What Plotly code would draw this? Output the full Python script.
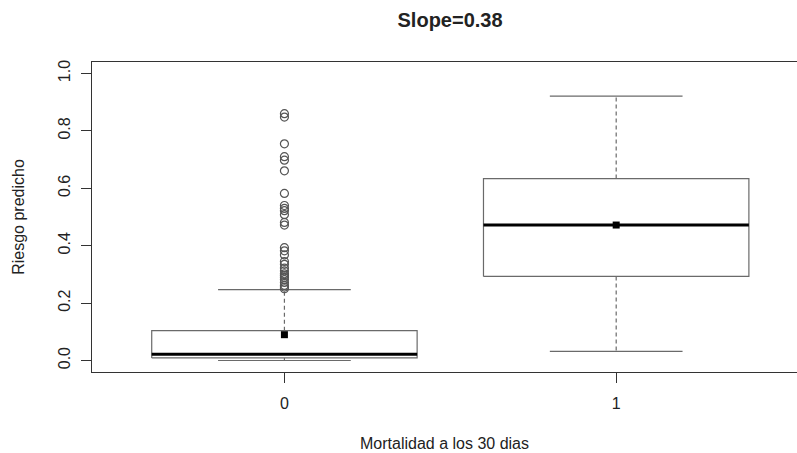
import plotly.graph_objects as go

# ---- data ----
groups = ["0", "1"]
positions = [1, 2]
q1 = [0.009, 0.293]
medians = [0.022, 0.472]
q3 = [0.104, 0.634]
whisker_low = [0.0, 0.032]
whisker_high = [0.247, 0.921]
means = [0.090, 0.472]
outliers_group0 = [0.860, 0.848, 0.755, 0.710, 0.698, 0.661, 0.582, 0.540, 0.530,
                   0.522, 0.508, 0.481, 0.472, 0.393, 0.382, 0.368, 0.345, 0.335,
                   0.322, 0.312, 0.302, 0.296, 0.290, 0.282, 0.272, 0.262, 0.256, 0.250]
outliers_group1 = []
y_ticks = [0.0, 0.2, 0.4, 0.6, 0.8, 1.0]
title_text = "Slope=0.38"
x_title = "Mortalidad a los 30 dias"
y_title = "Riesgo predicho"

# ---- style ----
W, H = 797, 453
L, T, B = 91.5, 61.5, 80.5
BOXWEX = 0.8
STAPLE = 0.4
LINE_GRAY = "#6a6a6a"
FONT = "Liberation Sans, Arial, sans-serif"
TEXT = "#222222"

# x axis as in R: xlim c(0.5, 2.5) extended 4%, but the right side is cropped
x_lo = 0.42
x_hi_full = 2.58
px_per_unit = 332.0
x_hi = x_lo + (W - L) / px_per_unit

fig = go.Figure()

for i, p in enumerate(positions):
    half = BOXWEX / 2
    # box
    fig.add_trace(go.Scatter(
        x=[p - half, p + half, p + half, p - half, p - half],
        y=[q1[i], q1[i], q3[i], q3[i], q1[i]],
        mode="lines", line=dict(color=LINE_GRAY, width=1.2),
        hoverinfo="skip", showlegend=False))
    # whiskers (dashed)
    fig.add_trace(go.Scatter(
        x=[p, p, None, p, p],
        y=[q3[i], whisker_high[i], None, q1[i], whisker_low[i]],
        mode="lines", line=dict(color=LINE_GRAY, width=1.2, dash="4px,3px"),
        hoverinfo="skip", showlegend=False))
    # staples
    s = STAPLE / 2
    fig.add_trace(go.Scatter(
        x=[p - s, p + s, None, p - s, p + s],
        y=[whisker_high[i], whisker_high[i], None, whisker_low[i], whisker_low[i]],
        mode="lines", line=dict(color=LINE_GRAY, width=1.2),
        hoverinfo="skip", showlegend=False))
    # median
    fig.add_trace(go.Scatter(
        x=[p - half, p + half], y=[medians[i], medians[i]],
        mode="lines", line=dict(color="#000000", width=3),
        hoverinfo="skip", showlegend=False))

# outliers
for p, outs in zip(positions, [outliers_group0, outliers_group1]):
    if outs:
        fig.add_trace(go.Scatter(
            x=[p] * len(outs), y=outs, mode="markers",
            marker=dict(symbol="circle-open", size=8, color="#555555",
                        line=dict(width=1.2, color="#555555")),
            hoverinfo="skip", showlegend=False))

# means
fig.add_trace(go.Scatter(
    x=positions, y=means, mode="markers",
    marker=dict(symbol="square", size=7, color="#000000"),
    hoverinfo="skip", showlegend=False))

fig.update_layout(
    width=W, height=H,
    margin=dict(l=L, r=0, t=T, b=B, pad=0),
    paper_bgcolor="white", plot_bgcolor="white",
    font=dict(family=FONT, size=16, color=TEXT),
    title=dict(text="<b>" + title_text + "</b>", font=dict(size=20, color=TEXT),
               x=(L + (x_hi_full - x_lo) * px_per_unit / 2) / W, xanchor="center",
               xref="container",
               y=1 - 20 / H, yanchor="middle", yref="container"),
    xaxis=dict(range=[x_lo, x_hi], showgrid=False, zeroline=False,
               showline=True, mirror=True, linecolor="#333333", linewidth=1,
               tickmode="array", tickvals=positions, ticktext=groups,
               ticks="outside", ticklen=10, tickcolor="#333333",
               tickfont=dict(size=16), ticklabelstandoff=7,
               title=dict(text=x_title, font=dict(size=16), standoff=26)),
    yaxis=dict(range=[-0.04, 1.04], showgrid=False, zeroline=False,
               showline=True, mirror=False, linecolor="#333333", linewidth=1,
               tickmode="array", tickvals=y_ticks,
               ticktext=[f"{v:.1f}" for v in y_ticks],
               ticks="outside", ticklen=10, tickcolor="#333333",
               tickangle=-90, tickfont=dict(size=16), ticklabelstandoff=5,
               title=dict(text=y_title, font=dict(size=16), standoff=26)),
)

fig.write_html("out.html")
